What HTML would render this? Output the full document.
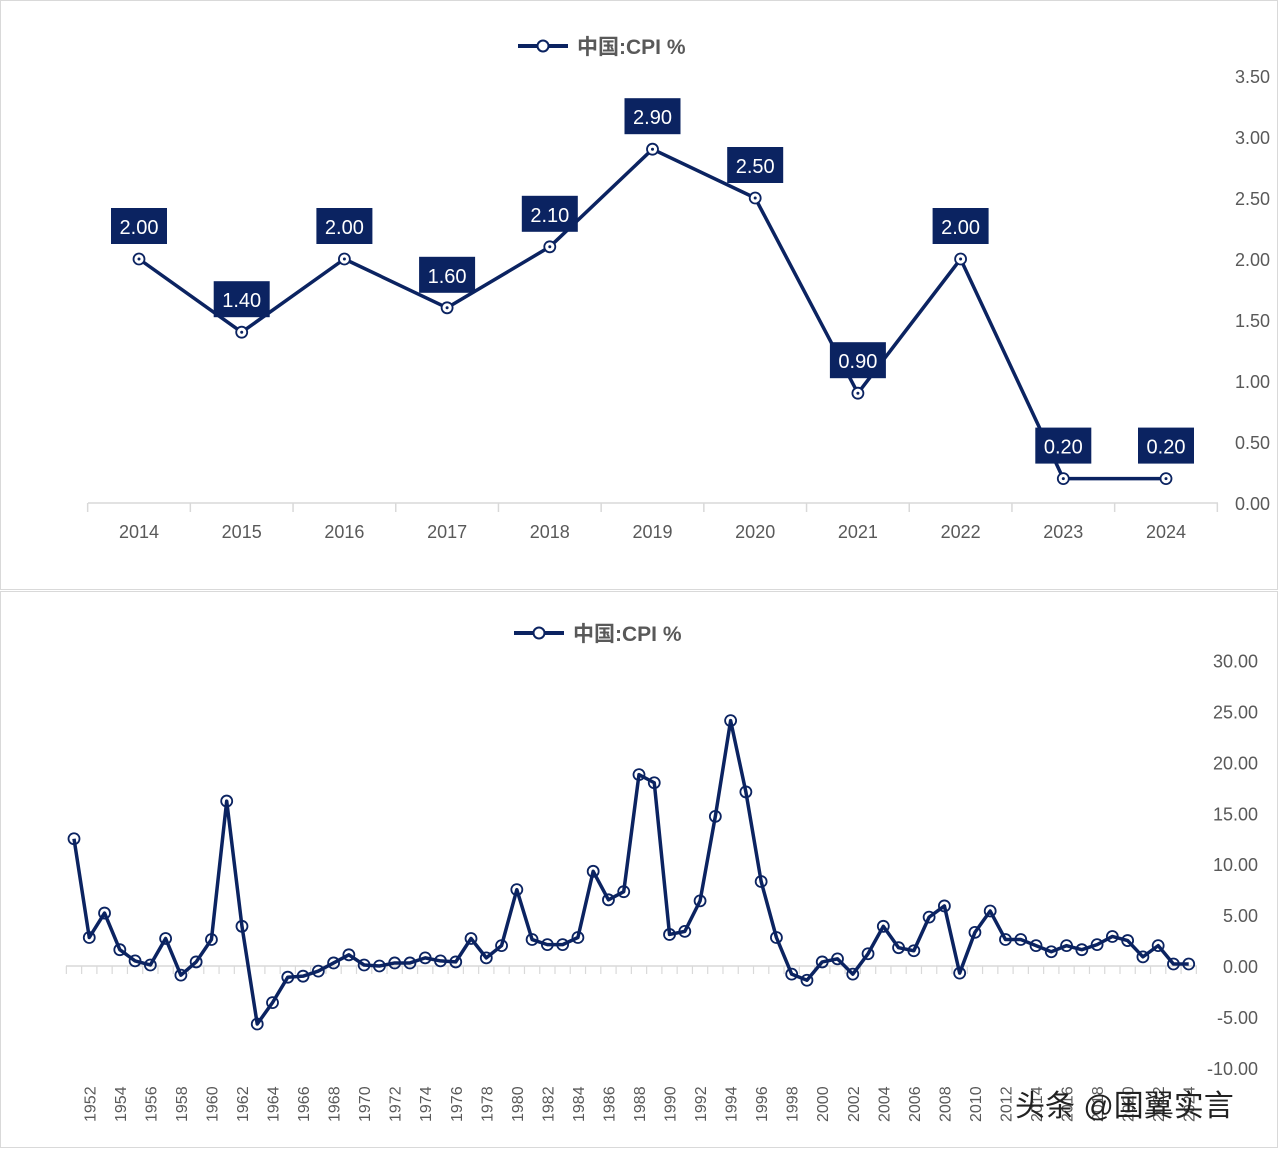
<!DOCTYPE html>
<html><head><meta charset="utf-8">
<style>
html,body{margin:0;padding:0;background:#fff;}
body{width:1280px;height:1149px;overflow:hidden;font-family:"Liberation Sans","Noto Sans CJK SC",sans-serif;}
svg text{font-family:"Liberation Sans","Noto Sans CJK SC",sans-serif;}
</style></head>
<body>
<svg id="chart" width="1280" height="1149" xmlns="http://www.w3.org/2000/svg">
  <rect x="0.5" y="0.5" width="1277" height="589" fill="#fff" stroke="#d9d9d9"/>
  <rect x="0.5" y="591.5" width="1277" height="556" fill="#fff" stroke="#d9d9d9"/>
  <g id="top"></g>
  <g id="bot"></g>
</svg>
<script>
const topYears = ['2014','2015','2016','2017','2018','2019','2020','2021','2022','2023','2024'];
const topValues = [2.0,1.4,2.0,1.6,2.1,2.9,2.5,0.9,2.0,0.2,0.2];
const topTicks = [0,0.5,1,1.5,2,2.5,3,3.5];

const botStartYear = 1951;
const botValues = [12.5,2.8,5.2,1.6,0.5,0.1,2.7,-0.9,0.4,2.6,16.2,3.9,-5.7,-3.6,-1.1,-1.0,-0.5,0.3,1.1,0.1,0.0,0.3,0.3,0.8,0.5,0.4,2.7,0.8,2.0,7.5,2.6,2.1,2.1,2.8,9.3,6.5,7.3,18.8,18.0,3.1,3.4,6.4,14.7,24.1,17.1,8.3,2.8,-0.8,-1.4,0.4,0.7,-0.8,1.2,3.9,1.8,1.5,4.8,5.9,-0.7,3.3,5.4,2.6,2.6,2.0,1.4,2.0,1.6,2.1,2.9,2.5,0.9,2.0,0.2,0.2];
const botTicks = [-10,-5,0,5,10,15,20,25,30];

const NS='http://www.w3.org/2000/svg';
const C='#0b2361';
function mk(p,tag,attrs,txt){const e=document.createElementNS(NS,tag);for(const k in attrs)e.setAttribute(k,attrs[k]);if(txt!==undefined)e.textContent=txt;p.appendChild(e);return e;}

function legend(g,x,y){
  const l=mk(g,'g',{});
  
  
  mk(l,'line',{x1:x,y1:y,x2:x+50,y2:y,stroke:C,'stroke-width':4});
  mk(l,'circle',{cx:x+25,cy:y,r:5.5,fill:'#fff',stroke:C,'stroke-width':2});
  mk(l,'text',{x:x+59,y:y+8,'font-size':21,fill:'#595959','font-weight':'bold'},'中国:CPI %');
}

// TOP chart
(function(){
  const g=document.getElementById('top');
  const x0=139, dx=102.7, yz=503, py=122;
  const X=i=>x0+i*dx, Y=v=>yz-v*py;
  legend(g,518,46);
  topTicks.forEach(t=>{
    const e=mk(g,'text',{x:1270,y:Y(t)+7,'font-size':18,fill:'#595959','text-anchor':'end'},t.toFixed(2));
    
    
  });
  const ax=mk(g,'line',{x1:88,y1:yz,x2:1218,y2:yz,stroke:'#d9d9d9','stroke-width':1.5});
  
  
  for(let i=0;i<=topYears.length;i++){mk(g,'line',{x1:X(i)-dx/2,y1:yz,x2:X(i)-dx/2,y2:yz+9,stroke:'#d9d9d9','stroke-width':1.5});}
  topYears.forEach((yr,i)=>{
    const e=mk(g,'text',{x:X(i),y:538,'font-size':18,fill:'#595959','text-anchor':'middle'},yr);
    
    
  });
  const pl=mk(g,'polyline',{points:topValues.map((v,i)=>X(i)+','+Y(v)).join(' '),fill:'none',stroke:C,'stroke-width':3.5,'stroke-linejoin':'round'});
  
  
  topValues.forEach((v,i)=>{
    const c=mk(g,'circle',{cx:X(i),cy:Y(v),r:5.5,fill:'#fff',stroke:C,'stroke-width':1.8});
    
    
    mk(g,'circle',{cx:X(i),cy:Y(v),r:1.5,fill:C});
    const lb=mk(g,'g',{});
    
    
    const by=Y(v)-51;
    mk(lb,'rect',{x:X(i)-28,y:by,width:56,height:36,fill:C});
    mk(lb,'text',{x:X(i),y:by+26,'font-size':20,fill:'#fff','text-anchor':'middle'},v.toFixed(2));
  });
})();

// BOTTOM chart
(function(){
  const g=document.getElementById('bot');
  const x0=74, dx=15.27, yz=966, py=10.18;
  const X=i=>x0+i*dx, Y=v=>yz-v*py;
  legend(g,514,633);
  botTicks.forEach(t=>{
    const e=mk(g,'text',{x:1258,y:Y(t)+7,'font-size':18,fill:'#595959','text-anchor':'end'},t.toFixed(2));
    
    
  });
  const ax=mk(g,'line',{x1:66,y1:yz,x2:1197,y2:yz,stroke:'#d9d9d9','stroke-width':1.5});
  
  
  for(let i=0;i<=botValues.length;i++){mk(g,'line',{x1:X(i)-dx/2,y1:yz,x2:X(i)-dx/2,y2:yz+8,stroke:'#d9d9d9','stroke-width':1.2});}
  botValues.forEach((v,i)=>{
    const yr=botStartYear+i;
    if(yr%2===0){
      const e=mk(g,'text',{x:0,y:0,'font-size':16,fill:'#595959','text-anchor':'start',transform:`translate(${X(i)+6},1122) rotate(-90)`},String(yr));
      
      
    }
  });
  const pl=mk(g,'polyline',{points:botValues.map((v,i)=>X(i)+','+Y(v)).join(' '),fill:'none',stroke:C,'stroke-width':3.5,'stroke-linejoin':'round'});
  
  
  botValues.forEach((v,i)=>{
    const c=mk(g,'circle',{cx:X(i),cy:Y(v),r:5.5,fill:'none',stroke:C,'stroke-width':1.8});
    
    
  });
  const wm=mk(g,'text',{x:1015,y:1116,'font-size':30,fill:'#222'},'头条 @国翼实言');
  
  
})();
</script>
</body></html>
